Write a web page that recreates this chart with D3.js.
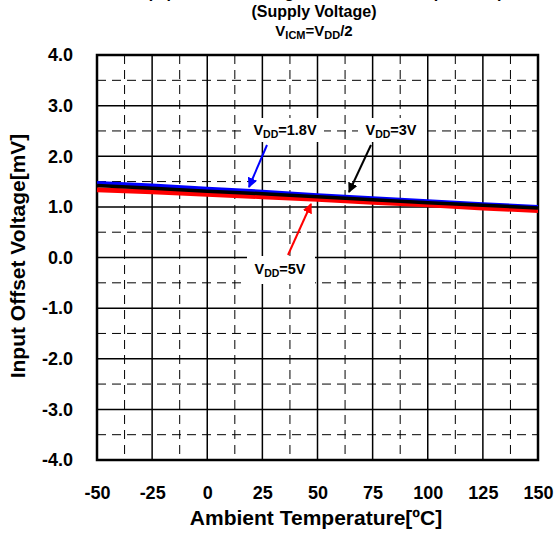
<!DOCTYPE html>
<html>
<head>
<meta charset="utf-8">
<script src="https://cdn.jsdelivr.net/npm/d3@7"></script>
<style>
  body { margin: 0; background: #fff; }
  text { font-family: "Liberation Sans", Arial, sans-serif; font-weight: bold; fill: #000; }
</style>
</head>
<body>
<script>
var temps = [-50, -25, 0, 25, 50, 75, 100, 125, 150];
var vdd18 = [1.47, 1.42, 1.36, 1.30, 1.23, 1.17, 1.11, 1.05, 1.00];
var vdd3  = [1.42, 1.37, 1.31, 1.26, 1.20, 1.14, 1.08, 1.03, 0.98];
var vdd5  = [1.34, 1.30, 1.25, 1.20, 1.15, 1.09, 1.04, 0.98, 0.93];
var xTicks = [-50, -25, 0, 25, 50, 75, 100, 125, 150];
var yTicks = [-4, -3, -2, -1, 0, 1, 2, 3, 4];

var width = 555, height = 533;
var margin = { top: 55, right: 17, bottom: 73, left: 97 };
var w = width - margin.left - margin.right,
    h = height - margin.top - margin.bottom;

var svg = d3.select("body").append("svg")
    .attr("width", width)
    .attr("height", height);

var x = d3.scaleLinear().domain([-50, 150]).range([0, w]);
var y = d3.scaleLinear().domain([-4, 4]).range([h, 0]);

// titles (top line is cut off in the original)
svg.append("text").attr("x", 325).attr("y", -2).attr("text-anchor", "middle")
  .style("font-size", "16px").text("(Input Offset Voltage vs. Ambient Temperature)");
svg.append("text").attr("x", 314).attr("y", 17).attr("text-anchor", "middle")
  .style("font-size", "16px").text("(Supply Voltage)");
var t2 = svg.append("text").attr("x", 314).attr("y", 36).attr("text-anchor", "middle")
  .style("font-size", "15px");
t2.append("tspan").text("V");
t2.append("tspan").attr("dy", 3).style("font-size", "11px").text("ICM");
t2.append("tspan").attr("dy", -3).text("=V");
t2.append("tspan").attr("dy", 3).style("font-size", "11px").text("DD");
t2.append("tspan").attr("dy", -3).text("/2");

var g = svg.append("g").attr("transform", `translate(${margin.left}, ${margin.top})`);

// grid
var minorX = d3.range(-37.5, 150, 25);
var minorY = d3.range(-3.5, 4, 1);
g.selectAll(".gxm").data(minorX).enter().append("line")
  .attr("x1", d => x(d)).attr("x2", d => x(d)).attr("y1", 0).attr("y2", h)
  .attr("stroke", "#000").attr("stroke-width", 1).attr("stroke-dasharray", "9,6");
g.selectAll(".gym").data(minorY).enter().append("line")
  .attr("y1", d => y(d)).attr("y2", d => y(d)).attr("x1", 0).attr("x2", w)
  .attr("stroke", "#000").attr("stroke-width", 1).attr("stroke-dasharray", "9,6");
g.selectAll(".gx").data(xTicks.slice(1, -1)).enter().append("line")
  .attr("x1", d => x(d)).attr("x2", d => x(d)).attr("y1", 0).attr("y2", h)
  .attr("stroke", "#000").attr("stroke-width", 1.5);
g.selectAll(".gy").data(yTicks.slice(1, -1)).enter().append("line")
  .attr("y1", d => y(d)).attr("y2", d => y(d)).attr("x1", 0).attr("x2", w)
  .attr("stroke", "#000").attr("stroke-width", 1.5);

// axes (plain hyphen for minus like the original)
var xAxis = g.append("g").attr("transform", `translate(0, ${h})`)
  .call(d3.axisBottom(x).tickValues(xTicks).tickSize(0).tickPadding(26).tickFormat(d => String(d)));
var yAxis = g.append("g")
  .call(d3.axisLeft(y).tickValues(yTicks).tickSize(0).tickPadding(24).tickFormat(d => d.toFixed(1)));
[xAxis, yAxis].forEach(a => {
  a.select(".domain").remove();
  a.selectAll("text").style("font-size", "18px").style("font-family", "Liberation Sans, Arial, sans-serif").style("font-weight", "bold");
});

g.append("rect").attr("width", w).attr("height", h)
  .attr("fill", "none").attr("stroke", "#000").attr("stroke-width", 2.5);

// lines
var line = d3.line().x((d, i) => x(temps[i])).y(d => y(d));
var series = [
  { values: vdd18, color: "#0000ff", sw: 4 },
  { values: vdd5, color: "#ff0000", sw: 5 },
  { values: vdd3, color: "#000000", sw: 3.5 }
];
g.selectAll(".series").data(series).enter().append("path")
  .attr("d", d => line(d.values))
  .attr("fill", "none").attr("stroke", d => d.color).attr("stroke-width", d => d.sw);

// annotations
var defs = svg.append("defs");
["#0000ff", "#000000", "#ff0000"].forEach((c, i) => {
  defs.append("marker").attr("id", "ah" + i).attr("viewBox", "0 0 10 10")
    .attr("refX", 9).attr("refY", 5).attr("markerWidth", 5).attr("markerHeight", 5)
    .attr("markerUnits", "strokeWidth").attr("orient", "auto")
    .append("path").attr("d", "M0,0 L10,5 L0,10 z").attr("fill", c);
});

var notes = [
  { label: "1.8V", tx: 285, ty: 135, box: [246, 118, 78, 24], a: [267, 145, 249, 187], m: 0, c: "#0000ff" },
  { label: "3V", tx: 391, ty: 135, box: [358, 118, 66, 24], a: [371, 145, 349, 192], m: 1, c: "#000000" },
  { label: "5V", tx: 280, ty: 274, box: [247, 256, 68, 28], a: [288, 255, 311, 204], m: 2, c: "#ff0000" }
];
notes.forEach(n => {
  svg.append("rect").attr("x", n.box[0]).attr("y", n.box[1]).attr("width", n.box[2]).attr("height", n.box[3])
    .attr("fill", "#fff");
  svg.append("line").attr("x1", n.a[0]).attr("y1", n.a[1]).attr("x2", n.a[2]).attr("y2", n.a[3])
    .attr("stroke", n.c).attr("stroke-width", 2).attr("marker-end", `url(#ah${n.m})`);
  var t = svg.append("text").attr("x", n.tx).attr("y", n.ty).attr("text-anchor", "middle")
    .style("font-size", "14.5px");
  t.append("tspan").text("V");
  t.append("tspan").attr("dy", 3).style("font-size", "10.5px").text("DD");
  t.append("tspan").attr("dy", -3).text("=" + n.label);
});

// axis titles
svg.append("text").attr("x", 316).attr("y", 525).attr("text-anchor", "middle")
  .style("font-size", "21px").text("Ambient Temperature[ºC]");
svg.append("text").attr("transform", "translate(25, 256) rotate(-90)").attr("text-anchor", "middle")
  .style("font-size", "21px").text("Input Offset Voltage[mV]");
</script>
</body>
</html>
